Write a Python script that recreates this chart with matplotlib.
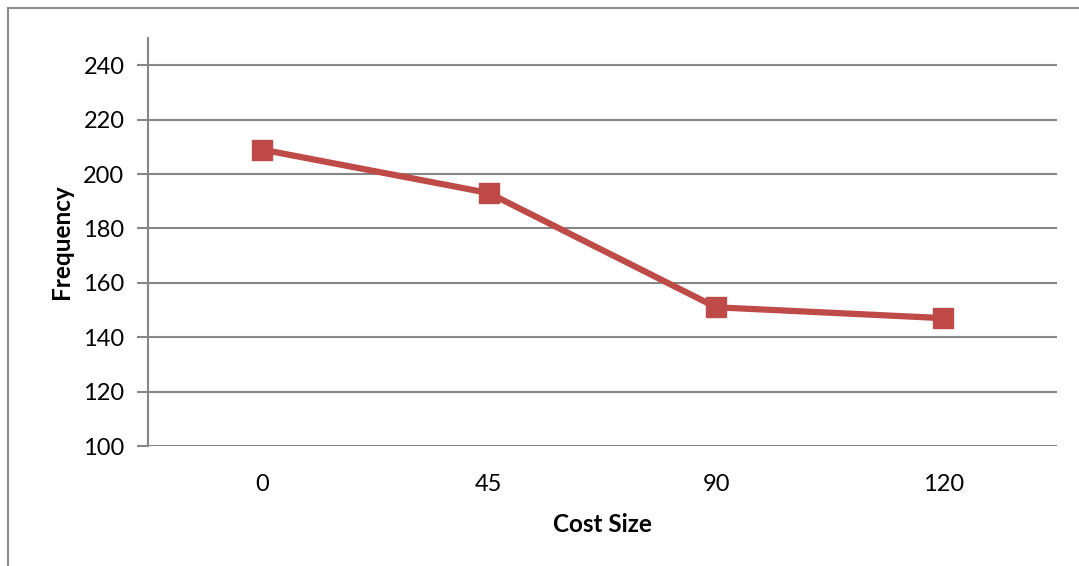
import matplotlib
matplotlib.use('Agg')
import matplotlib.pyplot as plt
from matplotlib.patches import Rectangle

# cost size categories and observed frequency
cost_size = ['0', '45', '90', '120']
frequency = [209, 193, 151, 147]
y_ticks = [100, 120, 140, 160, 180, 200, 220, 240]

line_color = '#BE4B48'
grid_color = '#868686'

plt.rcParams['font.family'] = ['Lato', 'DejaVu Sans']

W, H = 1079, 566
fig = plt.figure(figsize=(W / 100, H / 100), dpi=100)

# outer chart frame (runs off the right and bottom edges)
fig.patches.append(Rectangle((8 / W, -0.1), 1.2, 1 - 8 / H + 0.1,
                             transform=fig.transFigure, fill=False,
                             edgecolor='#8c8c8c', linewidth=1.5))

ax = fig.add_axes([148 / W, 1 - 446 / H, (1057 - 148) / W, (446 - 38) / H])

x = list(range(len(cost_size)))
ax.plot(x, frequency, color=line_color, linewidth=4.5, marker='s',
        markersize=14.5, markerfacecolor=line_color, markeredgecolor=line_color,
        zorder=3)

ax.set_xlim(-0.5, len(cost_size) - 0.5)
ax.set_ylim(100, 250)
ax.set_xticks(x)
ax.set_xticklabels(cost_size)
ax.set_yticks(y_ticks)

for yv in y_ticks:
    ax.axhline(yv, color=grid_color, linewidth=1.5, zorder=1)

for side in ['top', 'right', 'bottom']:
    ax.spines[side].set_visible(False)
ax.spines['left'].set_color(grid_color)
ax.spines['left'].set_linewidth(1.5)

ax.tick_params(axis='y', length=8, width=1.5, color=grid_color, labelsize=17, pad=9)
ax.tick_params(axis='x', length=0, labelsize=17, pad=20)

ax.set_xlabel('Cost Size', fontsize=17.5, fontweight='bold', labelpad=13)
ax.set_ylabel('Frequency', fontsize=17.5, fontweight='bold', labelpad=7)

fig.savefig('out.png', dpi=100)
